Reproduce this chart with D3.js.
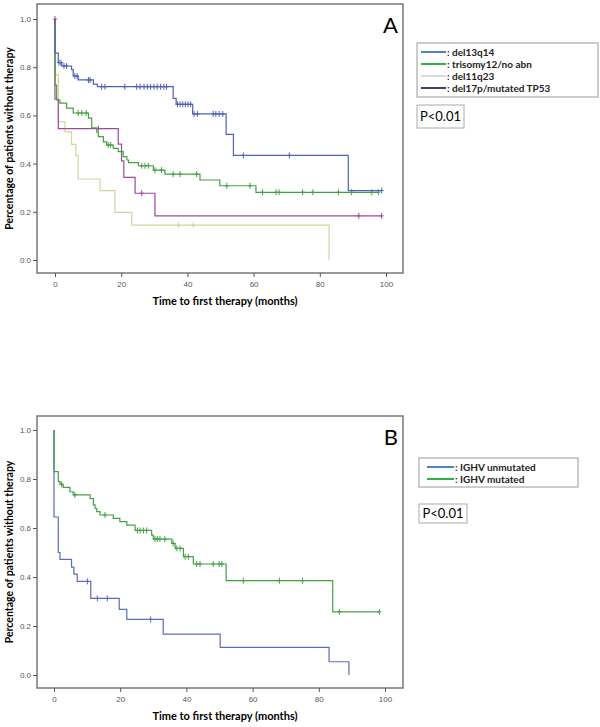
<!DOCTYPE html>
<html>
<head>
<meta charset="utf-8">
<script src="https://cdn.jsdelivr.net/npm/d3@7.9.0/dist/d3.min.js"></script>
<style>
  body { margin: 0; background: #fff; }
  svg text { font-family: Lato, "Open Sans", sans-serif; }
</style>
</head>
<body>
<svg id="chart" width="600" height="727"></svg>
<script>
// ---- panel A : cytogenetics ----
const del13Times = [0, 0, 1.0, 2.0, 5.0, 5.5, 7.0, 11.6, 12.8, 35.7, 36.6, 41.6, 51.7, 53.9, 88.6];
const del13Surv  = [1, 0.858, 0.819, 0.805, 0.79, 0.763, 0.747, 0.73, 0.719, 0.671, 0.646, 0.606, 0.521, 0.434, 0.288];
const del13Cens  = [1.2, 1.8, 2.7, 3.5, 6.0, 6.7, 10.1, 10.6, 14.1, 15.1, 21.1, 24.7, 25.7, 26.9, 27.9, 28.9, 29.9, 30.9, 31.9, 32.9, 33.7,
                    37.0, 37.8, 38.6, 39.4, 40.2, 41.0, 42.0, 43.0, 47.8, 48.6, 49.6, 50.7, 56.9, 70.8, 98.7];

const tri12Times = [0, 0, 0.5, 1.5, 3.5, 5.5, 10.1, 11.1, 12.6, 13.1, 14.6, 15.6, 17.6, 19.1, 20.6, 21.7, 22.2, 25.2, 29.7, 33.2, 43.8, 49.8, 60.7];
const tri12Surv  = [1, 0.726, 0.664, 0.651, 0.63, 0.61, 0.589, 0.548, 0.53, 0.512, 0.49, 0.477, 0.463, 0.45, 0.429, 0.415, 0.404, 0.391, 0.373, 0.356, 0.332, 0.308, 0.281];
const tri12Cens  = [7.0, 8.1, 9.4, 16.1, 16.8, 26.2, 27.2, 28.2, 30.2, 32.2, 35.7, 37.8, 42.8, 51.9, 58.9, 62.7, 66.8, 67.7, 74.8, 77.9, 85.6, 89.6, 95.7, 97.7];

const del11Times = [0, 0, 1.0, 3.0, 5.0, 6.3, 7.0, 13.6, 18.1, 23.2, 82.8];
const del11Surv  = [1, 0.768, 0.574, 0.532, 0.48, 0.433, 0.336, 0.288, 0.198, 0.145, 0];
const del11Cens  = [37.3, 41.8];

const del17Times = [0, 0, 1.0, 19.1, 20.1, 20.8, 24.2, 30.2];
const del17Surv  = [1, 0.667, 0.545, 0.481, 0.411, 0.343, 0.277, 0.183];
const del17Cens  = [0, 13.1, 26.2, 91.8, 98.7];

// ---- panel B : IGHV status ----
const unmutTimes = [0, 0, 1.3, 1.8, 5.3, 6.0, 7.0, 11.1, 19.7, 22.0, 33.0, 50.2, 83.1, 89.1];
const unmutSurv  = [1, 0.645, 0.50, 0.472, 0.44, 0.412, 0.382, 0.313, 0.268, 0.227, 0.167, 0.113, 0.054, 0];
const unmutCens  = [10.1, 13.1, 16.1, 29.2];

const mutTimes = [0, 0, 1.3, 1.8, 2.8, 4.8, 5.8, 10.9, 11.9, 12.4, 12.9, 13.9, 17.9, 19.9, 22.0, 24.5, 29.5, 30.0, 35.6, 36.6, 39.1, 42.1, 52.0, 84.2];
const mutSurv  = [1, 0.83, 0.789, 0.778, 0.766, 0.748, 0.735, 0.72, 0.694, 0.68, 0.667, 0.653, 0.639, 0.626, 0.612, 0.59, 0.571, 0.555, 0.537, 0.517, 0.483, 0.453, 0.385, 0.258];
const mutCens  = [2.3, 6.3, 15.4, 25.2, 26.0, 27.0, 28.0, 30.5, 31.2, 32.0, 33.5, 36.0, 37.1, 38.1, 39.6, 40.6, 43.1, 44.1, 48.1, 49.9, 50.7,
                  57.2, 68.1, 75.1, 86.2, 98.3];

const xTicks = [0, 20, 40, 60, 80, 100];
const yTicks = [0, 0.2, 0.4, 0.6, 0.8, 1.0];

const legendA = [': del13q14', ': trisomy12/no abn', ': del11q23', ': del17p/mutated TP53'];
const legendB = [': IGHV unmutated', ': IGHV mutated'];

const svg = d3.select('#chart');

function survAt(times, surv, t) {
  if (t <= 0) return surv[0];
  const i = d3.bisectRight(times, t) - 1;
  return surv[Math.max(i, 0)];
}

function drawPanel(p) {
  const x = d3.scaleLinear().domain([0, 100]).range([p.x0, p.x100]);
  const y = d3.scaleLinear().domain([0, 1]).range([p.y0, p.y1]);
  const g = svg.append('g');

  // frame
  g.append('rect')
    .attr('x', p.left).attr('y', p.top)
    .attr('width', p.right - p.left).attr('height', p.bottom - p.top)
    .attr('fill', 'none').attr('stroke', '#6e6e6e').attr('stroke-width', 1.4);

  const yAxis = g.append('g')
    .attr('transform', `translate(${p.left},0)`)
    .call(d3.axisLeft(y).tickValues(yTicks).tickFormat(d3.format('.1f')).tickSize(4).tickPadding(2));
  const xAxis = g.append('g')
    .attr('transform', `translate(0,${p.bottom})`)
    .call(d3.axisBottom(x).tickValues(xTicks).tickSize(4).tickPadding(4));
  [xAxis, yAxis].forEach(a => {
    a.select('.domain').remove();
    a.selectAll('line').attr('stroke', '#555');
    a.selectAll('text').attr('fill', '#555').style('font-size', '8px')
      .style('font-family', 'Liberation Sans, Arial, sans-serif');
  });

  // titles
  g.append('text')
    .attr('transform', `translate(13,${(p.top + p.bottom) / 2}) rotate(-90)`)
    .attr('text-anchor', 'middle')
    .style('font-size', '10.5px').style('font-weight', 'bold')
    .text('Percentage of patients without therapy');
  g.append('text')
    .attr('x', 225).attr('y', p.bottom + 32)
    .attr('text-anchor', 'middle')
    .style('font-size', '11px').style('font-weight', 'bold')
    .text('Time to first therapy (months)');
  g.append('text')
    .attr('x', p.right - 5).attr('y', p.top + 29)
    .attr('text-anchor', 'end')
    .style('font-size', '22px')
    .text(p.label);

  const line = d3.line().x(d => x(d[0])).y(d => y(d[1])).curve(d3.curveStepAfter);

  p.series.forEach(s => {
    const pts = s.times.map((t, i) => [t, s.surv[i]]);
    const end = d3.max(s.cens.concat(s.times));
    pts.push([end, s.surv[s.surv.length - 1]]);
    g.append('path').datum(pts)
      .attr('d', line)
      .attr('fill', 'none').attr('stroke', s.color).attr('stroke-width', 1.2);

    g.append('g').selectAll('path').data(s.cens).join('path')
      .attr('d', t => {
        const cx = x(t), cy = y(survAt(s.times, s.surv, t));
        return `M${cx},${cy - 3}V${cy + 3}M${cx - 2},${cy}H${cx + 2}`;
      })
      .attr('fill', 'none').attr('stroke', s.color).attr('stroke-width', 1);
  });

  // legend
  const lg = p.legend;
  g.append('rect')
    .attr('x', lg.x).attr('y', lg.y).attr('width', lg.w).attr('height', lg.h)
    .attr('fill', '#fff').attr('stroke', '#999').attr('stroke-width', 1);
  lg.labels.forEach((lab, i) => {
    const cy = lg.firstY + i * 12;
    g.append('line')
      .attr('x1', lg.lx0).attr('x2', lg.lx1).attr('y1', cy).attr('y2', cy)
      .attr('stroke', lg.colors[i]).attr('stroke-width', 2);
    g.append('text')
      .attr('x', lg.lx1 + 1).attr('y', cy + 3.5)
      .style('font-size', '10px').style('font-weight', 'bold')
      .attr('fill', '#222')
      .text(lab);
  });

  const pb = p.pbox;
  g.append('rect')
    .attr('x', pb.x).attr('y', pb.y).attr('width', pb.w).attr('height', pb.h)
    .attr('fill', '#fff').attr('stroke', '#aaa').attr('stroke-width', 1);
  g.append('text')
    .attr('x', pb.x + pb.w / 2).attr('y', pb.y + pb.h / 2 + 4.5)
    .attr('text-anchor', 'middle')
    .style('font-size', '13px')
    .text('P<0.01');
}

drawPanel({
  left: 37, right: 403, top: 4, bottom: 273,
  x0: 55, x100: 386, y0: 260, y1: 19,
  label: 'A',
  series: [
    { times: del11Times, surv: del11Surv, cens: del11Cens, color: '#d6d49c' },
    { times: del17Times, surv: del17Surv, cens: del17Cens, color: '#9a4a9a' },
    { times: tri12Times, surv: tri12Surv, cens: tri12Cens, color: '#45a045' },
    { times: del13Times, surv: del13Surv, cens: del13Cens, color: '#4f62b4' }
  ],
  legend: { x: 417, y: 43, w: 181, h: 54, firstY: 52, lx0: 421, lx1: 446,
            labels: legendA, colors: ['#4f81bd', '#2eb04a', '#d9d9d9', '#4b3b6b'] },
  pbox: { x: 417, y: 105, w: 47, h: 23 }
});

drawPanel({
  left: 37, right: 403, top: 416, bottom: 688,
  x0: 54, x100: 385, y0: 675, y1: 430,
  label: 'B',
  series: [
    { times: unmutTimes, surv: unmutSurv, cens: unmutCens, color: '#5b6cbc' },
    { times: mutTimes, surv: mutSurv, cens: mutCens, color: '#45a045' }
  ],
  legend: { x: 419, y: 458, w: 159, h: 29, firstY: 467, lx0: 427, lx1: 454,
            labels: legendB, colors: ['#4f81bd', '#2eb04a'] },
  pbox: { x: 419, y: 504, w: 48, h: 19 }
});
</script>
</body>
</html>
